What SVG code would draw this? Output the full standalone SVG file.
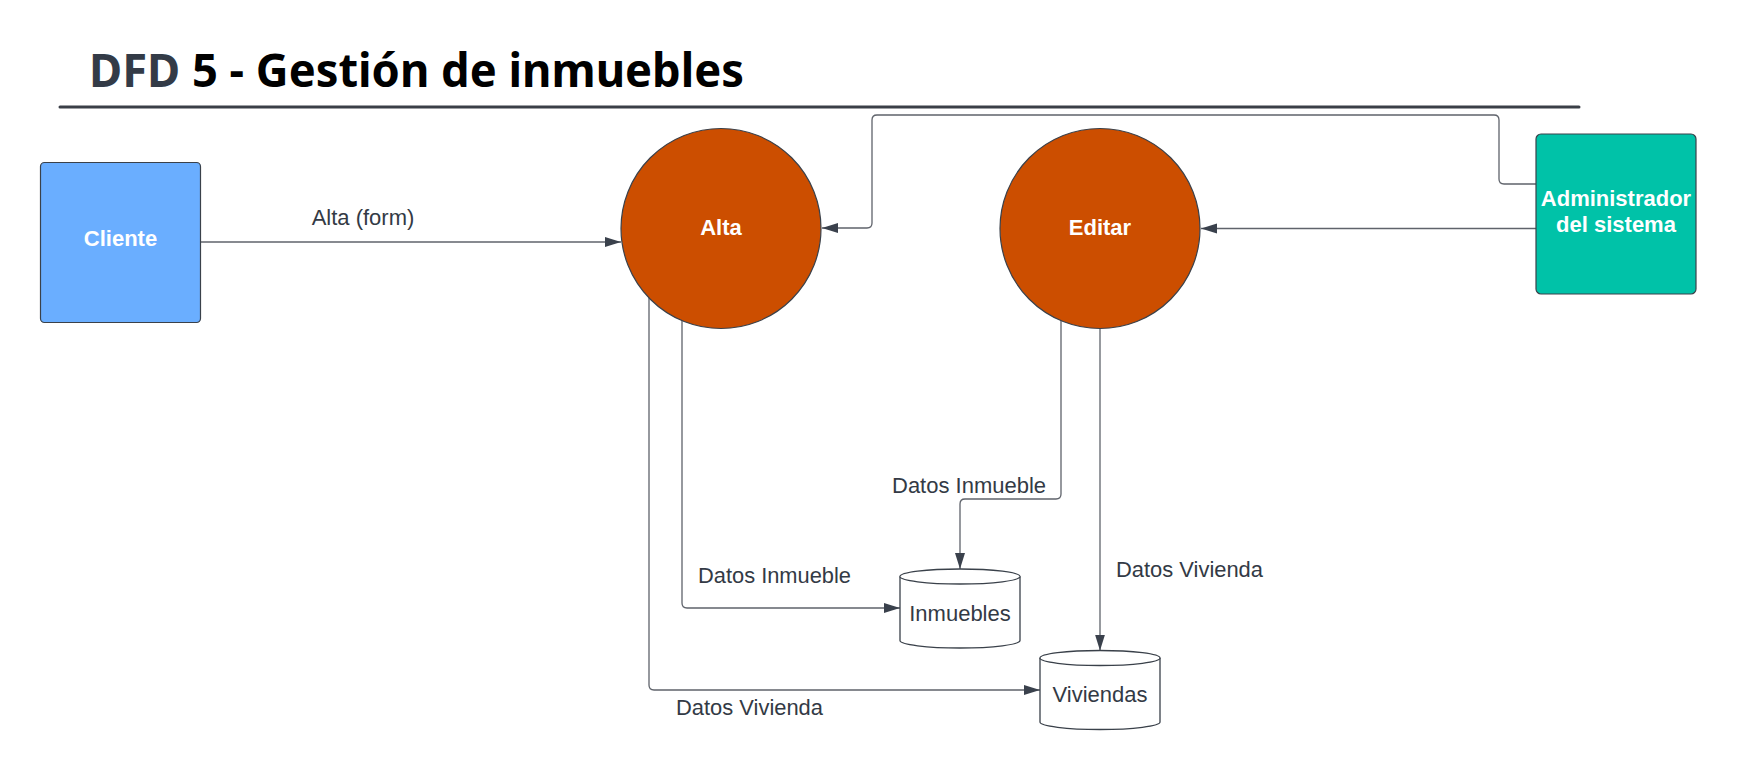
<svg xmlns="http://www.w3.org/2000/svg" width="1740" height="771" viewBox="0 0 1740 771">
<style>
.ent{stroke:#3a414a;stroke-width:1.2}
.proc{fill:#cc4e00;stroke:#3a414a;stroke-width:1.2}
.store{fill:#ffffff;stroke:#3a414a;stroke-width:1.3}
.wt{font-family:"Liberation Sans",Arial,sans-serif;font-weight:bold;font-size:22px;fill:#ffffff;text-anchor:middle}
.lbl{font-family:"Liberation Sans",Arial,sans-serif;font-size:22px;fill:#333a45}
.mid{text-anchor:middle}
.con{fill:none;stroke:#5f636b;stroke-width:1.3}
</style>
<defs>
<marker id="arr" markerUnits="userSpaceOnUse" markerWidth="17" markerHeight="11" refX="16" refY="5" orient="auto">
<path d="M0,0 L16,5 L0,10 z" fill="#3a414c"/>
</marker>
</defs>
<rect width="1740" height="771" fill="#ffffff"/>
<g id="title">
<text x="89" y="87" font-family="'Noto Sans','Open Sans',sans-serif" font-weight="bold" font-size="47" textLength="655" lengthAdjust="spacingAndGlyphs"><tspan fill="#333b47">DFD</tspan><tspan fill="#000000"> 5 - Gestión de inmuebles</tspan></text>
<line x1="60" y1="107" x2="1579" y2="107" stroke="#3a3f47" stroke-width="3" stroke-linecap="round"/>
</g>
<g id="connectors">
<path class="con" d="M200,242 L621,242" marker-end="url(#arr)"/>
<path class="con" d="M1537,184 L1504,184 Q1499,184 1499,179 L1499,120 Q1499,115 1494,115 L877,115 Q872,115 872,120 L872,223 Q872,228 867,228 L822,228" marker-end="url(#arr)"/>
<path class="con" d="M1537,228.5 L1201,228.5" marker-end="url(#arr)"/>
<path class="con" d="M682,320.6 L682,603 Q682,608 687,608 L900,608" marker-end="url(#arr)"/>
<path class="con" d="M649,298 L649,685 Q649,690 654,690 L1040,690" marker-end="url(#arr)"/>
<path class="con" d="M1061,320.6 L1061,494 Q1061,499 1056,499 L965,499 Q960,499 960,504 L960,569" marker-end="url(#arr)"/>
<path class="con" d="M1100,328.5 L1100,650.5" marker-end="url(#arr)"/>
<text class="lbl mid" x="363" y="225">Alta (form)</text>
<text class="lbl" x="892" y="493" textLength="154" lengthAdjust="spacingAndGlyphs">Datos Inmueble</text>
<text class="lbl" x="698" y="583" textLength="153" lengthAdjust="spacingAndGlyphs">Datos Inmueble</text>
<text class="lbl" x="1116" y="577" textLength="147" lengthAdjust="spacingAndGlyphs">Datos Vivienda</text>
<text class="lbl" x="676" y="715" textLength="147" lengthAdjust="spacingAndGlyphs">Datos Vivienda</text>
</g>
<g id="cliente">
<rect class="ent" x="40.5" y="162.5" width="160" height="160" rx="4" fill="#6aaeff"/>
<text class="wt" x="120.5" y="246">Cliente</text>
</g>
<g id="alta">
<circle class="proc" cx="721" cy="228.5" r="100"/>
<text class="wt" x="721" y="235">Alta</text>
</g>
<g id="editar">
<circle class="proc" cx="1100" cy="228.5" r="100"/>
<text class="wt" x="1100" y="235">Editar</text>
</g>
<g id="administrador">
<rect class="ent" x="1536" y="134" width="160" height="160" rx="5" fill="#00c2a8"/>
<text class="wt" x="1616" y="206">Administrador</text>
<text class="wt" x="1616" y="232">del sistema</text>
</g>
<g id="inmuebles">
<path class="store" d="M900,576.5 A60,7.5 0 0 1 1020,576.5 L1020,640.5 A60,7.5 0 0 1 900,640.5 Z"/>
<path class="store" fill="none" d="M900,576.5 A60,7.5 0 0 0 1020,576.5"/>
<text class="lbl mid" x="960" y="621">Inmuebles</text>
</g>
<g id="viviendas">
<path class="store" d="M1040,658 A60,7.5 0 0 1 1160,658 L1160,722 A60,7.5 0 0 1 1040,722 Z"/>
<path class="store" fill="none" d="M1040,658 A60,7.5 0 0 0 1160,658"/>
<text class="lbl mid" x="1100" y="702">Viviendas</text>
</g>
</svg>
